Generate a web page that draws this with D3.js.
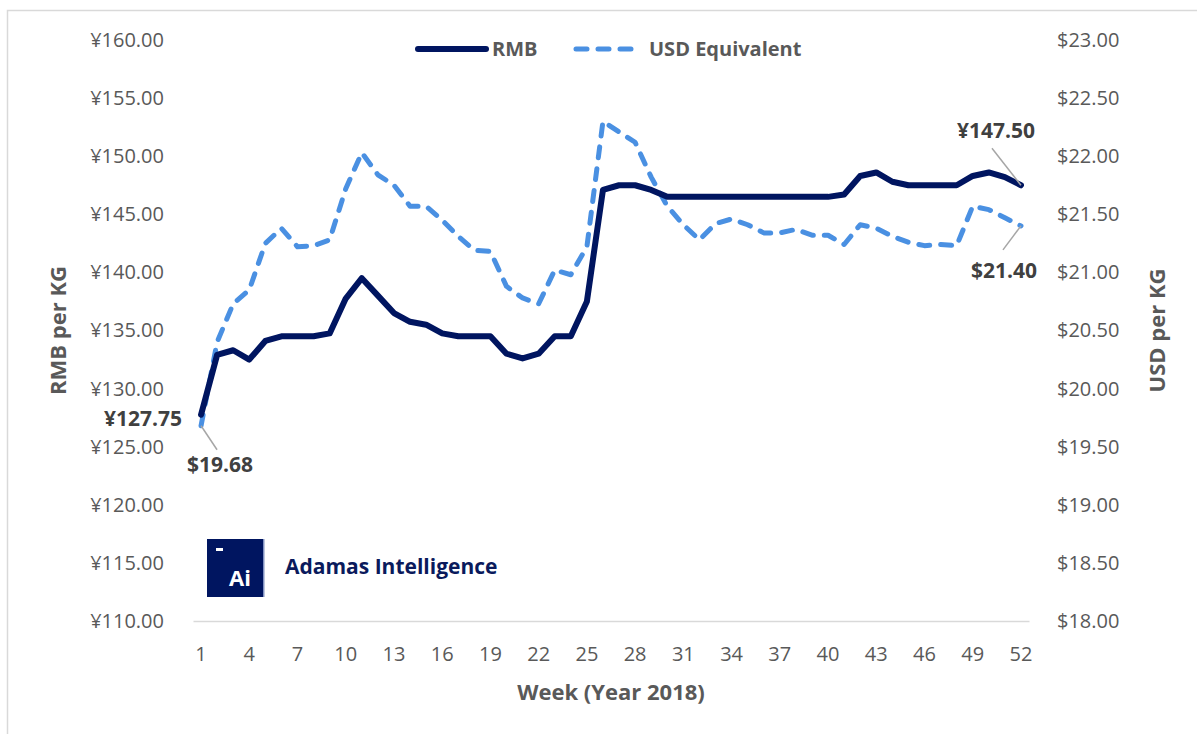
<!DOCTYPE html>
<html>
<head>
<meta charset="utf-8">
<script src="https://cdn.jsdelivr.net/npm/d3@7"></script>
<style>
  body { margin: 0; background: #fff; }
  text { font-family: "Open Sans", sans-serif; }
  .tick text { fill: #595959; font-size: 20px; }
  .axisTitle { fill: #595959; font-size: 22px; font-weight: bold; }
  .legendText { fill: #595959; font-size: 20px; font-weight: bold; }
  .dataLabel { fill: #404040; font-size: 21px; font-weight: bold; }
</style>
</head>
<body>
<div id="chart"></div>
<script>
// Chart data
var weeks = [1, 2, 3, 4, 5, 6, 7, 8, 9, 10, 11, 12, 13, 14, 15, 16, 17, 18, 19, 20,
  21, 22, 23, 24, 25, 26, 27, 28, 29, 30, 31, 32, 33, 34, 35, 36, 37, 38, 39, 40,
  41, 42, 43, 44, 45, 46, 47, 48, 49, 50, 51, 52];
var weekTicks = [1, 4, 7, 10, 13, 16, 19, 22, 25, 28, 31, 34, 37, 40, 43, 46, 49, 52];

var rmb = [127.75, 132.9, 133.3, 132.5, 134.1, 134.5, 134.5, 134.5, 134.75, 137.75,
  139.5, 138.0, 136.5, 135.75, 135.5, 134.75, 134.5, 134.5, 134.5, 133.0,
  132.6, 133.0, 134.5, 134.5, 137.5, 147.1, 147.5, 147.5, 147.1, 146.5,
  146.5, 146.5, 146.5, 146.5, 146.5, 146.5, 146.5, 146.5, 146.5, 146.5,
  146.7, 148.3, 148.6, 147.8, 147.5, 147.5, 147.5, 147.5, 148.3, 148.6, 148.2, 147.5];

var usd = [19.68, 20.40, 20.73, 20.85, 21.25, 21.38, 21.22, 21.23, 21.28, 21.72,
  22.03, 21.84, 21.75, 21.57, 21.57, 21.45, 21.31, 21.19, 21.18, 20.88,
  20.78, 20.73, 21.02, 20.98, 21.22, 22.30, 22.21, 22.12, 21.82, 21.57,
  21.41, 21.28, 21.42, 21.46, 21.41, 21.34, 21.34, 21.37, 21.32, 21.32,
  21.24, 21.41, 21.38, 21.31, 21.26, 21.23, 21.24, 21.23, 21.57, 21.54, 21.47, 21.40];

var rmbTicks = [110, 115, 120, 125, 130, 135, 140, 145, 150, 155, 160];
var usdTicks = [18, 18.5, 19, 19.5, 20, 20.5, 21, 21.5, 22, 22.5, 23];

// Set up chart
var svgWidth = 1197;
var svgHeight = 734;
var margin = {top: 40, right: 168, bottom: 113, left: 193};
var width = svgWidth - margin.left - margin.right;
var height = svgHeight - margin.top - margin.bottom;

var navy = "#001560";
var blue = "#4a90e2";

var svg = d3.select("#chart")
  .append("svg")
  .attr("width", svgWidth)
  .attr("height", svgHeight);

// outer frame
svg.append("rect")
  .attr("x", 7.5)
  .attr("y", 10.5)
  .attr("width", 1300)
  .attr("height", 800)
  .attr("fill", "none")
  .attr("stroke", "#d9d9d9")
  .attr("stroke-width", 1.5);

var chart = svg.append("g")
  .attr("transform", `translate(${margin.left}, ${margin.top})`);

// Scales
var xScale = d3.scaleBand()
  .domain(weeks)
  .range([0, width]);

var yLeft = d3.scaleLinear()
  .domain([110, 160])
  .range([height, 0]);

var yRight = d3.scaleLinear()
  .domain([18, 23])
  .range([height, 0]);

var xPos = d => xScale(d) + xScale.bandwidth() / 2;

// Axes
var bottomAxis = d3.axisBottom(xScale)
  .tickValues(weekTicks)
  .tickSize(0)
  .tickPadding(26);

var leftAxis = d3.axisLeft(yLeft)
  .tickValues(rmbTicks)
  .tickSize(0)
  .tickPadding(29)
  .tickFormat(d => "¥" + d.toFixed(2));

var rightAxis = d3.axisRight(yRight)
  .tickValues(usdTicks)
  .tickSize(0)
  .tickPadding(28)
  .tickFormat(d => "$" + d.toFixed(2));

var xAxisG = chart.append("g")
  .attr("transform", `translate(0, ${height})`)
  .call(bottomAxis);
xAxisG.select(".domain").attr("stroke", "#d9d9d9").attr("stroke-width", 1.5);

chart.append("g")
  .call(leftAxis)
  .select(".domain").remove();

chart.append("g")
  .attr("transform", `translate(${width}, 0)`)
  .call(rightAxis)
  .select(".domain").remove();

// Lines
var rmbLine = d3.line()
  .x((d, i) => xPos(weeks[i]))
  .y(d => yLeft(d));

var usdLine = d3.line()
  .x((d, i) => xPos(weeks[i]))
  .y(d => yRight(d));

chart.append("path")
  .datum(usd)
  .attr("d", usdLine)
  .attr("fill", "none")
  .attr("stroke", blue)
  .attr("stroke-width", 5)
  .attr("stroke-dasharray", "11 11")
  .attr("stroke-linecap", "round")
  .attr("stroke-linejoin", "round");

chart.append("path")
  .datum(rmb)
  .attr("d", rmbLine)
  .attr("fill", "none")
  .attr("stroke", navy)
  .attr("stroke-width", 6)
  .attr("stroke-linecap", "round")
  .attr("stroke-linejoin", "round");

// Data labels with leader lines
var last = weeks.length - 1;
var leader = "#a6a6a6";

chart.append("text")
  .attr("class", "dataLabel")
  .attr("x", xPos(weeks[0]) - 19)
  .attr("y", yLeft(rmb[0]) + 11)
  .attr("text-anchor", "end")
  .text("¥" + rmb[0].toFixed(2));

chart.append("line")
  .attr("x1", xPos(weeks[0])).attr("y1", yRight(usd[0]))
  .attr("x2", xPos(weeks[0]) + 16).attr("y2", yRight(usd[0]) + 24)
  .attr("stroke", leader).attr("stroke-width", 1.5);

chart.append("text")
  .attr("class", "dataLabel")
  .attr("x", xPos(weeks[0]) + 19)
  .attr("y", yRight(usd[0]) + 46)
  .attr("text-anchor", "middle")
  .text("$" + usd[0].toFixed(2));

chart.append("line")
  .attr("x1", xPos(weeks[last])).attr("y1", yLeft(rmb[last]))
  .attr("x2", xPos(weeks[last]) - 29).attr("y2", yLeft(rmb[last]) - 37)
  .attr("stroke", leader).attr("stroke-width", 1.5);

chart.append("text")
  .attr("class", "dataLabel")
  .attr("x", xPos(weeks[last]) - 25)
  .attr("y", yLeft(rmb[last]) - 47)
  .attr("text-anchor", "middle")
  .text("¥" + rmb[last].toFixed(2));

chart.append("line")
  .attr("x1", xPos(weeks[last])).attr("y1", yRight(usd[last]))
  .attr("x2", xPos(weeks[last]) - 18).attr("y2", yRight(usd[last]) + 24)
  .attr("stroke", leader).attr("stroke-width", 1.5);

chart.append("text")
  .attr("class", "dataLabel")
  .attr("x", xPos(weeks[last]) - 17)
  .attr("y", yRight(usd[last]) + 52)
  .attr("text-anchor", "middle")
  .text("$" + usd[last].toFixed(2));

// Axis titles
svg.append("text")
  .attr("class", "axisTitle")
  .attr("transform", `translate(66, ${margin.top + height / 2}) rotate(-90)`)
  .attr("text-anchor", "middle")
  .text("RMB per KG");

svg.append("text")
  .attr("class", "axisTitle")
  .attr("transform", `translate(1165, ${margin.top + height / 2}) rotate(-90)`)
  .attr("text-anchor", "middle")
  .text("USD per KG");

svg.append("text")
  .attr("class", "axisTitle")
  .attr("x", margin.left + width / 2)
  .attr("y", 700)
  .attr("text-anchor", "middle")
  .text("Week (Year 2018)");

// Legend
var legend = svg.append("g").attr("transform", "translate(0, 49)");

legend.append("line")
  .attr("x1", 418).attr("x2", 486)
  .attr("stroke", navy).attr("stroke-width", 6).attr("stroke-linecap", "round");
legend.append("text")
  .attr("class", "legendText")
  .attr("x", 492).attr("y", 7)
  .text("RMB");

legend.append("line")
  .attr("x1", 576).attr("x2", 636)
  .attr("stroke", blue).attr("stroke-width", 5)
  .attr("stroke-dasharray", "11 11").attr("stroke-linecap", "round");
legend.append("text")
  .attr("class", "legendText")
  .attr("x", 649).attr("y", 7)
  .text("USD Equivalent");

// Logo
var logo = svg.append("g").attr("transform", "translate(207, 539)");
logo.append("rect")
  .attr("width", 57).attr("height", 58)
  .attr("fill", navy);
logo.append("rect")
  .attr("x", 56).attr("width", 1.5).attr("height", 58)
  .attr("fill", "#8090c0");
logo.append("rect")
  .attr("x", 9).attr("y", 9).attr("width", 7).attr("height", 3)
  .attr("fill", "#fff");
logo.append("text")
  .attr("x", 22).attr("y", 47)
  .attr("fill", "#fff")
  .style("font-size", "22px")
  .style("font-weight", "bold")
  .text("Ai");

svg.append("text")
  .attr("x", 285).attr("y", 574)
  .attr("fill", "#0a1a5c")
  .style("font-size", "21px")
  .style("font-weight", "bold")
  .text("Adamas Intelligence");
</script>
</body>
</html>
